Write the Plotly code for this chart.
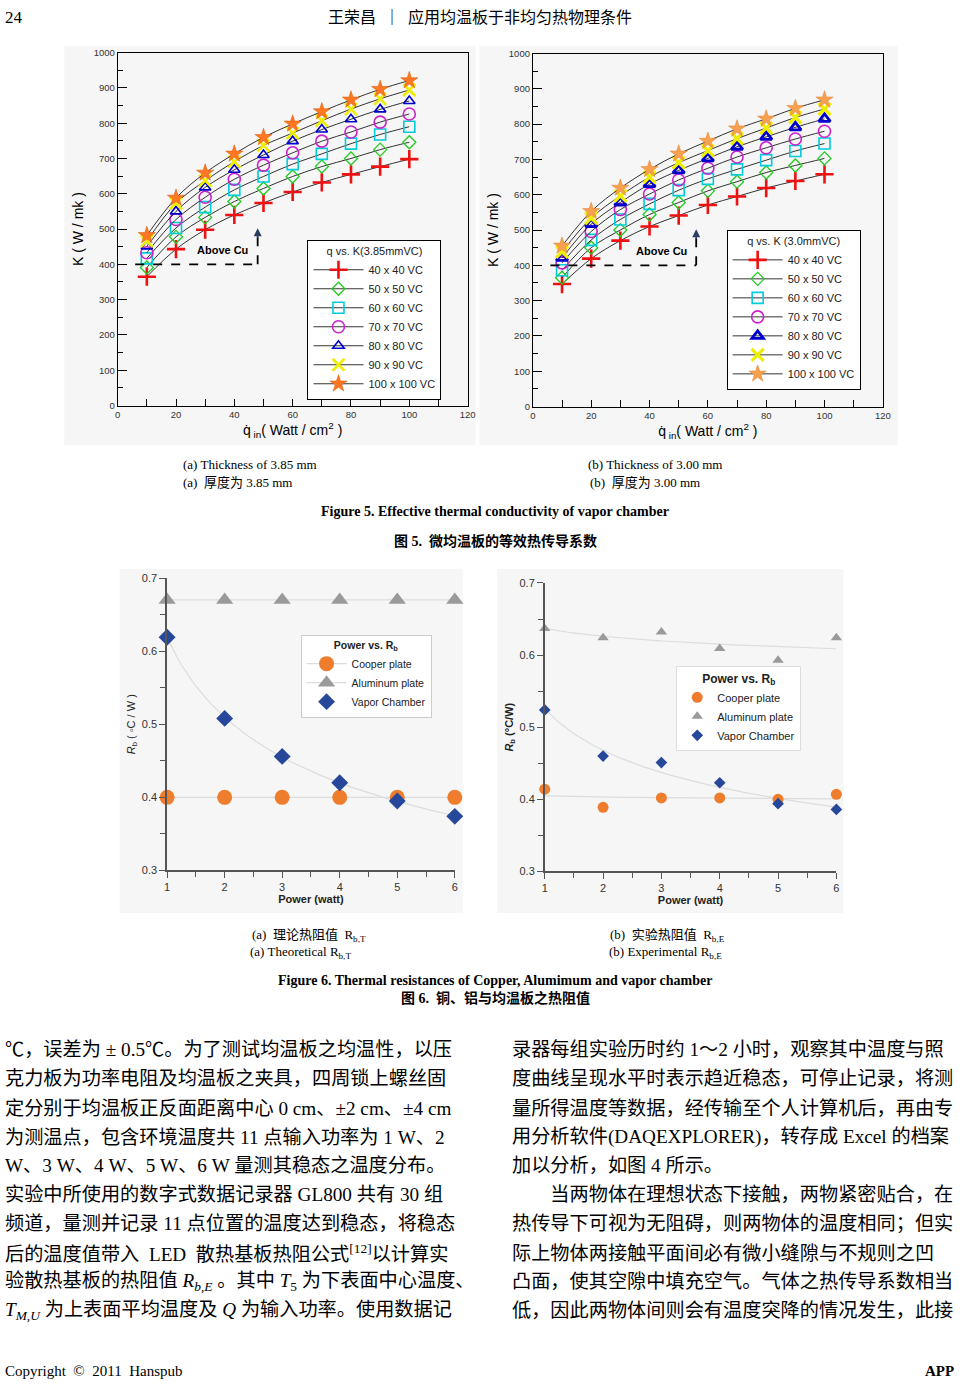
import numpy as np
import plotly.graph_objects as go

W, H = 964, 1387

# ---------------- data ----------------
q_in = [10, 20, 30, 40, 50, 60, 70, 80, 90, 100]
series_names = ["40 x 40 VC", "50 x 50 VC", "60 x 60 VC", "70 x 70 VC",
                "80 x 80 VC", "90 x 90 VC", "100 x 100 VC"]

k_385_40 = [365, 443, 498, 540, 574, 605, 632, 655, 677, 698]
k_385_50 = [391, 478, 533, 578, 615, 649, 677, 700, 725, 746]
k_385_60 = [417, 503, 562, 611, 649, 684, 713, 742, 768, 790]
k_385_70 = [433, 527, 590, 641, 681, 716, 749, 775, 803, 826]
k_385_80 = [451, 550, 618, 668, 710, 749, 782, 811, 839, 863]
k_385_90 = [466, 573, 637, 691, 737, 772, 807, 840, 869, 894]
k_385_100 = [482, 588, 659, 713, 760, 798, 833, 866, 896, 921]

k_300_40 = [347, 419, 470, 510, 541, 571, 595, 619, 639, 658]
k_300_50 = [365, 450, 500, 544, 578, 611, 637, 663, 683, 703]
k_300_60 = [386, 472, 530, 574, 613, 645, 672, 698, 724, 745]
k_300_70 = [407, 496, 558, 602, 642, 675, 707, 733, 758, 780]
k_300_80 = [421, 517, 578, 630, 669, 703, 736, 764, 791, 815]
k_300_90 = [438, 534, 597, 650, 691, 725, 759, 789, 819, 843]
k_300_100 = [455, 553, 619, 672, 716, 752, 787, 815, 845, 869]

power_w = [1, 2, 3, 4, 5, 6]
rb_t_copper = [0.40, 0.40, 0.40, 0.40, 0.40, 0.40]
rb_t_aluminum = [0.67, 0.67, 0.67, 0.67, 0.67, 0.67]
rb_t_vapor = [0.619, 0.508, 0.456, 0.420, 0.395, 0.374]

rb_e_copper = [0.414, 0.389, 0.402, 0.402, 0.400, 0.407]
rb_e_aluminum = [0.637, 0.624, 0.632, 0.609, 0.593, 0.624]
rb_e_vapor = [0.524, 0.460, 0.451, 0.423, 0.394, 0.386]

above_cu_level = 400

# ---------------- helpers ----------------
def px_x(p):
    return p / W

def px_y(p):
    return 1 - p / H

def power_fit(x, y):
    b, a = np.polyfit(np.log(x), np.log(y), 1)
    xs = np.linspace(min(x), max(x), 80)
    return xs, np.exp(a) * xs ** b

fig = go.Figure()

styles_left = [
    dict(symbol="cross-thin", size=13, color="#ee1111", line=dict(width=2.6, color="#ee1111")),
    dict(symbol="diamond-open", size=10, color="#22cc22", line=dict(width=1.3, color="#22cc22")),
    dict(symbol="square-open", size=11, color="#00ccdd", line=dict(width=1.6, color="#00ccdd")),
    dict(symbol="circle-open", size=12, color="#cc22cc", line=dict(width=1.6, color="#cc22cc")),
    dict(symbol="triangle-up-open", size=10, color="#0000cc", line=dict(width=1.6, color="#0000cc")),
    dict(symbol="x-thin", size=12, color="#eeee00", line=dict(width=2.6, color="#eeee00")),
    dict(symbol="star", size=13, color="#ff7722", line=dict(width=0.5, color="#dd5500")),
]
styles_right = [
    dict(symbol="cross-thin", size=13, color="#ee1111", line=dict(width=2.6, color="#ee1111")),
    dict(symbol="diamond-open", size=10, color="#22cc22", line=dict(width=1.3, color="#22cc22")),
    dict(symbol="square-open", size=11, color="#00ccdd", line=dict(width=1.6, color="#00ccdd")),
    dict(symbol="circle-open", size=12, color="#cc22cc", line=dict(width=1.6, color="#cc22cc")),
    dict(symbol="triangle-up-open", size=10, color="#0000cc", line=dict(width=2.8, color="#0000cc")),
    dict(symbol="x-thin", size=12, color="#eeee00", line=dict(width=3.2, color="#eeee00")),
    dict(symbol="star", size=13, color="#f7a050", line=dict(width=0.5, color="#e08030")),
]

left_sets = [k_385_40, k_385_50, k_385_60, k_385_70, k_385_80, k_385_90, k_385_100]
right_sets = [k_300_40, k_300_50, k_300_60, k_300_70, k_300_80, k_300_90, k_300_100]

for name, ys, st in zip(series_names, left_sets, styles_left):
    fig.add_trace(go.Scatter(x=q_in, y=ys, name=name, mode="lines+markers",
                             line=dict(color="black", width=0.8, shape="spline"),
                             marker=st, xaxis="x", yaxis="y", legend="legend",
                             cliponaxis=False))
for name, ys, st in zip(series_names, right_sets, styles_right):
    fig.add_trace(go.Scatter(x=q_in, y=ys, name=name, mode="lines+markers",
                             line=dict(color="black", width=0.8, shape="spline"),
                             marker=st, xaxis="x2", yaxis="y2", legend="legend2",
                             cliponaxis=False))

ORANGE = "#ef7d2e"
GRAY = "#9a9a9a"
BLUE = "#26479a"
LIGHT = "#dcdcdc"

# bottom-left (theoretical)
xs, ys = power_fit(power_w, rb_t_vapor)
fig.add_trace(go.Scatter(x=xs, y=ys, mode="lines", line=dict(color=LIGHT, width=1.2),
                         showlegend=False, xaxis="x3", yaxis="y3", hoverinfo="skip"))
fig.add_trace(go.Scatter(x=power_w, y=rb_t_copper, name="Cooper plate", mode="lines+markers",
                         line=dict(color=LIGHT, width=1.2),
                         marker=dict(symbol="circle", size=15, color=ORANGE),
                         xaxis="x3", yaxis="y3", legend="legend3", cliponaxis=False))
fig.add_trace(go.Scatter(x=power_w, y=rb_t_aluminum, name="Aluminum plate", mode="lines+markers",
                         line=dict(color=LIGHT, width=1.2),
                         marker=dict(symbol="triangle-up", size=15, color=GRAY),
                         xaxis="x3", yaxis="y3", legend="legend3", cliponaxis=False))
fig.add_trace(go.Scatter(x=power_w, y=rb_t_vapor, name="Vapor Chamber", mode="markers",
                         marker=dict(symbol="diamond", size=13, color=BLUE),
                         xaxis="x3", yaxis="y3", legend="legend3", cliponaxis=False))

# bottom-right (experimental)
for data in (rb_e_aluminum, rb_e_copper, rb_e_vapor):
    xs, ys = power_fit(power_w, data)
    fig.add_trace(go.Scatter(x=xs, y=ys, mode="lines", line=dict(color=LIGHT, width=1.2),
                             showlegend=False, xaxis="x4", yaxis="y4", hoverinfo="skip"))
fig.add_trace(go.Scatter(x=power_w, y=rb_e_copper, name="Cooper plate", mode="markers",
                         marker=dict(symbol="circle", size=11, color=ORANGE),
                         xaxis="x4", yaxis="y4", legend="legend4", cliponaxis=False))
fig.add_trace(go.Scatter(x=power_w, y=rb_e_aluminum, name="Aluminum plate", mode="markers",
                         marker=dict(symbol="triangle-up", size=10, color=GRAY),
                         xaxis="x4", yaxis="y4", legend="legend4", cliponaxis=False))
fig.add_trace(go.Scatter(x=power_w, y=rb_e_vapor, name="Vapor Chamber", mode="markers",
                         marker=dict(symbol="diamond", size=9, color=BLUE),
                         xaxis="x4", yaxis="y4", legend="legend4", cliponaxis=False))

SANS = "Liberation Sans, Arial, sans-serif"
SERIF = "Liberation Serif, Noto Sans CJK SC, serif"
CJK = "Liberation Serif, Noto Sans CJK SC, serif"

def top_x(dom):
    return dict(domain=dom, range=[0, 120], tickvals=list(range(0, 121, 20)),
                ticks="inside", ticklen=7, tickcolor="black", tickwidth=1,
                minor=dict(tickvals=list(range(10, 120, 20)), ticks="inside", ticklen=7,
                           tickcolor="black"),
                showline=True, linecolor="black", linewidth=1, mirror=True,
                showgrid=False, zeroline=False,
                tickfont=dict(family=SANS, size=9.5, color="#333"),
                title=dict(text="q̇<sub> in</sub>( Watt / cm<sup>2</sup> )",
                           font=dict(family=SANS, size=14, color="black"), standoff=4))

def top_y(dom, anchor):
    return dict(domain=dom, range=[0, 1000], tickvals=list(range(0, 1001, 100)),
                ticks="inside", ticklen=9, tickcolor="black", tickwidth=1,
                minor=dict(tickvals=list(range(50, 1000, 100)), ticks="inside", ticklen=5,
                           tickcolor="black"),
                showline=True, linecolor="black", linewidth=1, mirror=True,
                showgrid=False, zeroline=False, anchor=anchor,
                tickfont=dict(family=SANS, size=9.5, color="#333"),
                title=dict(text="K ( W / mk )", font=dict(family=SANS, size=14, color="black"),
                           standoff=6))

def bot_x(dom, anchor):
    return dict(domain=dom, range=[1, 6], tickvals=power_w, anchor=anchor,
                ticks="outside", ticklen=6, tickcolor="#555", tickwidth=1.3,
                minor=dict(tickvals=[1.5, 2.5, 3.5, 4.5, 5.5], ticks="outside", ticklen=5,
                           tickcolor="#555"),
                showline=True, linecolor="#555", linewidth=1.5, showgrid=False, zeroline=False,
                tickfont=dict(family=SANS, size=11, color="#333"),
                title=dict(text="<b>Power (watt)</b>", font=dict(family=SANS, size=11, color="#222"),
                           standoff=0))

def bot_y(dom, anchor, title):
    return dict(domain=dom, range=[0.3, 0.7], tickvals=[0.3, 0.4, 0.5, 0.6, 0.7], anchor=anchor,
                ticks="outside", ticklen=6, tickcolor="#555", tickwidth=1.3,
                minor=dict(tickvals=[0.35, 0.45, 0.55, 0.65], ticks="outside", ticklen=5,
                           tickcolor="#555"),
                showline=True, linecolor="#555", linewidth=1.5, showgrid=False, zeroline=False,
                tickfont=dict(family=SANS, size=11, color="#333"), tickformat=".1f",
                title=dict(text=title, font=dict(family=SANS, size=11, color="#222"), standoff=4))

legend_common = dict(bgcolor="white", borderwidth=1, xanchor="left", yanchor="top",
                     tracegroupgap=0)

fig.update_layout(
    width=W, height=H, margin=dict(l=0, r=0, t=0, b=0), autosize=False,
    paper_bgcolor="white", plot_bgcolor="white", showlegend=True,
    xaxis=top_x([px_x(116), px_x(470)]),
    yaxis=top_y([px_y(403), px_y(47)], "x"),
    xaxis2=dict(top_x([px_x(536), px_x(890)]), anchor="y2"),
    yaxis2=top_y([px_y(404), px_y(48)], "x2"),
    xaxis3=bot_x([px_x(166), px_x(457)], "y3"),
    yaxis3=bot_y([px_y(872), px_y(577)], "x3", "<i>R</i><sub>b</sub> ( ◦C / W )"),
    xaxis4=bot_x([px_x(548), px_x(843)], "y4"),
    yaxis4=bot_y([px_y(873), px_y(582)], "x4", "<b><i>R</i><sub>b</sub> (°C/W)</b>"),
    legend=dict(legend_common, x=px_x(308), y=px_y(236), bordercolor="black", itemwidth=50,
                font=dict(family=SANS, size=11, color="#222"),
                title=dict(text="q vs. K(3.85mmVC)", side="top center",
                           font=dict(family=SANS, size=11, color="#222"))),
    legend2=dict(legend_common, x=px_x(732), y=px_y(226), bordercolor="black", itemwidth=50,
                 font=dict(family=SANS, size=11, color="#222"),
                 title=dict(text="q vs. K (3.0mmVC)", side="top center",
                            font=dict(family=SANS, size=11, color="#222"))),
    legend3=dict(legend_common, x=px_x(301), y=px_y(634), bordercolor="#cccccc", itemwidth=40,
                 font=dict(family=SANS, size=10.5, color="#222"),
                 title=dict(text="<b>Power vs. R<sub>b</sub></b>", side="top center",
                            font=dict(family=SANS, size=10.5, color="#222"))),
    legend4=dict(legend_common, x=px_x(681), y=px_y(666), bordercolor="#dddddd", itemwidth=30,
                 font=dict(family=SANS, size=11, color="#222"),
                 title=dict(text="<b>Power vs. R<sub>b</sub></b>", side="top center",
                            font=dict(family=SANS, size=12, color="#222"))),
)

# light gray image panels behind charts
panels = [(62, 40, 478, 443), (482, 40, 905, 443), (118, 568, 465, 915), (500, 568, 850, 915)]
shapes = []
for x0, y0, x1, y1 in panels:
    shapes.append(dict(type="rect", xref="paper", yref="paper", x0=px_x(x0), x1=px_x(x1),
                       y0=px_y(y1), y1=px_y(y0), fillcolor="#f6f6f6", line=dict(width=0),
                       layer="below"))

# "Above Cu" dashed guides
for xa, ya, xend, ytop in (("x", "y", 48, 490), ("x2", "y2", 56, 490)):
    shapes.append(dict(type="line", xref=xa, yref=ya, x0=6, x1=xend, y0=above_cu_level,
                       y1=above_cu_level, line=dict(color="black", width=1.8, dash="dash")))
    shapes.append(dict(type="line", xref=xa, yref=ya, x0=xend, x1=xend, y0=above_cu_level,
                       y1=ytop - 10, line=dict(color="black", width=1.8, dash="dash")))
fig.update_layout(shapes=shapes)

ann = []
for xa, ya, xend, xt in (("x", "y", 48, 36), ("x2", "y2", 56, 44)):
    ann.append(dict(xref=xa, yref=ya, x=xend, y=502, ax=xend, ay=470, axref=xa, ayref=ya,
                    showarrow=True, arrowhead=2, arrowsize=1, arrowwidth=1.6, text=""))
    ann.append(dict(xref=xa, yref=ya, x=xt, y=440, text="<b>Above Cu</b>", showarrow=False,
                    font=dict(family=SANS, size=11, color="black")))

def txt(x, y, text, size=13, anchor="left", family=SERIF, color="black"):
    ann.append(dict(xref="paper", yref="paper", x=px_x(x), y=px_y(y), text=text,
                    xanchor=anchor, yanchor="middle", showarrow=False,
                    font=dict(family=family, size=size, color=color)))

# header
txt(0, 12, "24", size=17)
txt(482, 11, "王荣昌  ｜  应用均温板于非均匀热物理条件", size=16, anchor="center")

# Figure 5 captions
txt(180, 463, "(a) Thickness of 3.85 mm", size=13)
txt(180, 481, "(a)  厚度为 3.85 mm", size=13)
txt(590, 463, "(b) Thickness of 3.00 mm", size=13)
txt(592, 481, "(b)  厚度为 3.00 mm", size=13)
txt(498, 510, "<b>Figure 5. Effective thermal conductivity of vapor chamber</b>", size=14, anchor="center")
txt(498, 540, "<b>图 5.  微均温板的等效热传导系数</b>", size=14, anchor="center")

# Figure 6 captions
txt(250, 938, "(a)  理论热阻值  R<sub>b,T</sub>", size=13)
txt(248, 955, "(a) Theoretical R<sub>b,T</sub>", size=13)
txt(612, 938, "(b)  实验热阻值  R<sub>b,E</sub>", size=13)
txt(611, 955, "(b) Experimental R<sub>b,E</sub>", size=13)
txt(498, 983, "<b>Figure 6. Thermal resistances of Copper, Alumimum and vapor chamber</b>", size=14, anchor="center")
txt(498, 1001, "<b>图 6.  铜、铝与均温板之热阻值</b>", size=14, anchor="center")

left_lines = [
    "℃，误差为 ± 0.5℃。为了测试均温板之均温性，以压",
    "克力板为功率电阻及均温板之夹具，四周锁上螺丝固",
    "定分别于均温板正反面距离中心 0 cm、±2 cm、±4 cm",
    "为测温点，包含环境温度共 11 点输入功率为 1 W、2",
    "W、3 W、4 W、5 W、6 W 量测其稳态之温度分布。",
    "实验中所使用的数字式数据记录器 GL800 共有 30 组",
    "频道，量测并记录 11 点位置的温度达到稳态，将稳态",
    "后的温度值带入  LED  散热基板热阻公式<sup>[12]</sup>以计算实",
    "验散热基板的热阻值 <i>R</i><sub><i>b,E</i></sub> 。其中 <i>T</i><sub>5</sub> 为下表面中心温度、",
    "<i>T</i><sub><i>M,U</i></sub> 为上表面平均温度及 <i>Q</i> 为输入功率。使用数据记",
]
right_lines = [
    "录器每组实验历时约 1～2 小时，观察其中温度与照",
    "度曲线呈现水平时表示趋近稳态，可停止记录，将测",
    "量所得温度等数据，经传输至个人计算机后，再由专",
    "用分析软件(DAQEXPLORER)，转存成 Excel 的档案",
    "加以分析，如图 4 所示。",
    "　　当两物体在理想状态下接触，两物紧密贴合，在",
    "热传导下可视为无阻碍，则两物体的温度相同；但实",
    "际上物体两接触平面间必有微小缝隙与不规则之凹",
    "凸面，使其空隙中填充空气。气体之热传导系数相当",
    "低，因此两物体间则会有温度突降的情况发生，此接",
]
row_y = [1053, 1082, 1112, 1141, 1170, 1199, 1228, 1258, 1287, 1316]
for yy, line in zip(row_y, left_lines):
    txt(0, yy, line, size=19.2, family=CJK)
for yy, line in zip(row_y, right_lines):
    txt(513, yy, line, size=19.2, family=CJK)

# footer
txt(0, 1377, "Copyright  ©  2011  Hanspub", size=15)
txt(964, 1377, "<b>APP</b>", size=15, anchor="right")

fig.update_layout(annotations=ann)
fig.write_html(
    "out.html",
    config={"displayModeBar": False, "responsive": False},
    post_script=(
        "var s=document.documentElement.style;s.margin='0';s.padding='0';s.overflow='hidden';"
        "s.width='964px';s.height='1387px';"
        "var b=document.body.style;b.margin='0';b.padding='0';b.overflow='hidden';"
        "b.width='964px';b.height='1387px';"
        "var d=document.getElementById('{plot_id}');"
        "d.style.position='fixed';d.style.left='0px';d.style.top='0px';"
    ),
)
